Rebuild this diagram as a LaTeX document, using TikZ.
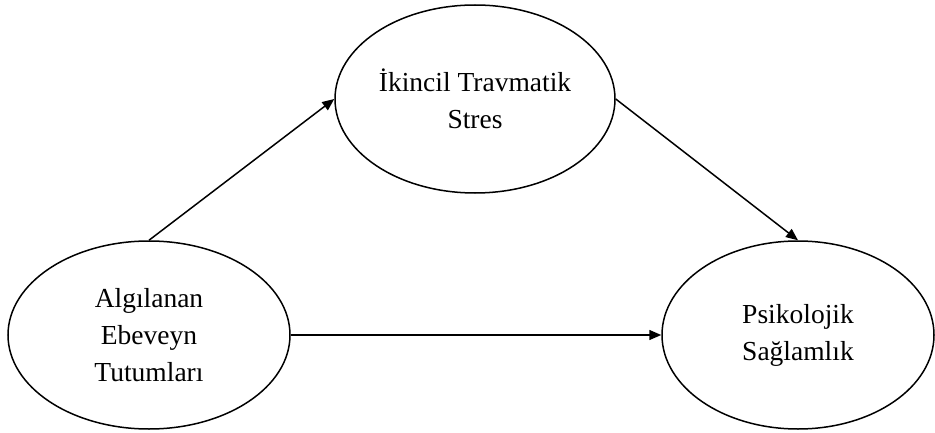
\documentclass[tikz,border=0pt]{standalone}
\usepackage{fontspec}
\setmainfont{Liberation Serif}
\usetikzlibrary{shapes.geometric,arrows.meta}

\begin{document}
\begin{tikzpicture}[x=1pt,y=1pt,>={Triangle[length=12pt,width=10pt]},every path/.append style={line width=1.5pt},oval/.style = {draw,ellipse,inner sep=0pt,minimum height=188pt,align=center,font=\fontsize{27.5}{37}\selectfont}]
			\useasboundingbox (0, 0) rectangle (935, 432);
			\node (AET) at (149, 97) [oval,minimum width=282pt]  {Algılanan\\Ebeveyn\\Tutumları};
			\node (ITS) at (475, 333) [oval,minimum width=280pt]  {İkincil Travmatik\\Stres};
			\draw      [->] (AET.north) -- (ITS.west);
			\node (PS)  at (798, 97) [oval,minimum width=272pt]  {Psikolojik\\Sağlamlık};
			\draw      [->] (ITS.east) -- (PS.north);
			\draw      [->] (AET.east) -- (PS.west);
		\end{tikzpicture}
\end{document}
